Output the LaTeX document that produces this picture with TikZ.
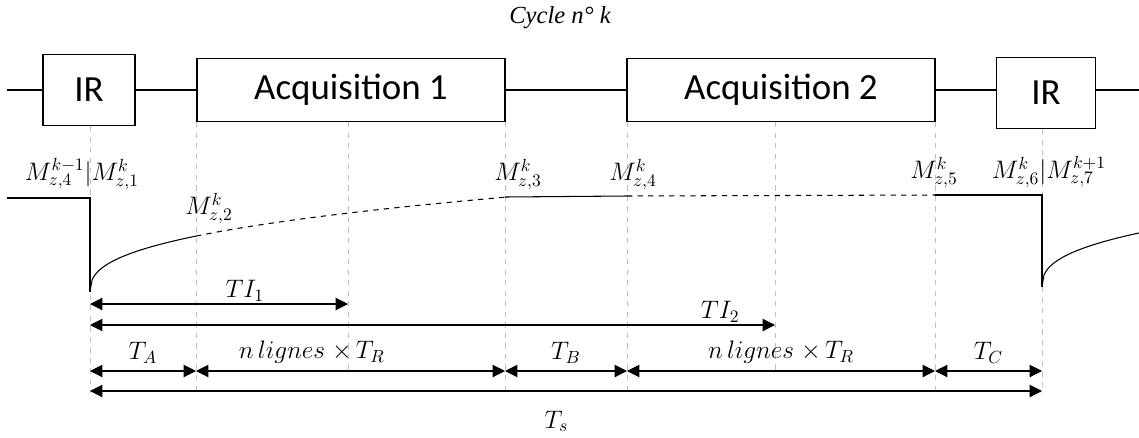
\documentclass[tikz,border=0pt]{standalone}
\usepackage{fontspec}
\setsansfont{Carlito}
\newfontfamily\cyclefont{Liberation Serif}
\usetikzlibrary{arrows.meta}

\begin{document}
\begin{tikzpicture}[x=0.02cm,y=-0.02cm,
    bloc/.style={draw,line width=1.1pt,inner sep=0pt,font=\sffamily\fontsize{21}{25}\selectfont},
    guide/.style={gray!50,dashed,line width=0.4pt},
    cote/.style={{Triangle[length=7pt,width=7pt]}-{Triangle[length=7pt,width=7pt]},line width=0.6pt},
    etiq/.style={font=\fontsize{14}{16}\selectfont,inner sep=1pt}]
  \useasboundingbox (0,0) rectangle (1139,437);

  % sequence
  \node[bloc,minimum width=1.84cm,minimum height=1.42cm] (ir1) at (89,90) {IR};
  \node[bloc,minimum width=6.16cm,minimum height=1.26cm] (acq1) at (351,90) {Acquisition 1};
  \node[bloc,minimum width=6.16cm,minimum height=1.26cm] (acq2) at (781,90) {Acquisition 2};
  \node[bloc,minimum width=1.98cm,minimum height=1.42cm] (ir2) at (1046,93) {IR};
  \coordinate (debut) at (7,90);
  \coordinate (fin) at (1139,90);
  \draw[line width=0.6pt] (debut) -- (ir1) -- (acq1) -- (acq2) -- (acq2 -| ir2.west);
  \draw[line width=0.6pt] (ir2.east |- fin) -- (fin);
  \node[font=\cyclefont\fontsize{14}{16}\selectfont\itshape] (cycle) at (560,18) {Cycle n° k};

  % instants
  \coordinate (t0) at (90,126);
  \coordinate (t1) at (196,122);
  \coordinate (t2) at (348,122);
  \coordinate (t3) at (505,122);
  \coordinate (t4) at (627,122);
  \coordinate (t5) at (775,122);
  \coordinate (t6) at (935,122);
  \coordinate (t7) at (1042,129);
  \coordinate (r1) at (0,304);
  \coordinate (r2) at (0,325);
  \coordinate (r3) at (0,371);
  \coordinate (r4) at (0,391);
  \coordinate (bas) at (0,393);
  \foreach \t in {t0,t1,t3,t4,t6,t7}
    \draw[guide] (\t) -- (\t |- bas);
  \foreach \t in {t2,t5}
    \draw[guide] (\t) -- (\t |- r3);

  % aimantation
  \draw[line width=0.6pt] (7,198) -- (90,198) -- (90,292);
  \draw[line width=0.6pt] plot[domain=0.001:106,samples=50] ({90+\x},{292-9.2*(\x)^0.387});
  \draw[line width=0.6pt,dashed] plot[domain=106:415,samples=50] ({90+\x},{292-9.2*(\x)^0.387});
  \draw[line width=0.6pt] (505,197) -- (627,196);
  \draw[line width=0.6pt,dashed] (627,196) -- (935,195);
  \draw[line width=0.6pt] (935,195) -- (1042,195) -- (1042,287);
  \draw[line width=0.6pt] plot[domain=0.001:97,samples=50] ({1042+\x},{287-9.2*(\x)^0.387});

  \node[etiq,anchor=south] (m1) at (82,192) {$M_{z,4}^{k-1}|M_{z,1}^{k}$};
  \node[etiq,anchor=south] (m2) at (209,226) {$M_{z,2}^{k}$};
  \node[etiq,anchor=south] (m3) at (518,192) {$M_{z,3}^{k}$};
  \node[etiq,anchor=south] (m4) at (633,192) {$M_{z,4}^{k}$};
  \node[etiq,anchor=south] (m5) at (934,190) {$M_{z,5}^{k}$};
  \node[etiq,anchor=south] (m6) at (1049,190) {$M_{z,6}^{k}|M_{z,7}^{k+1}$};

  % durees
  \draw[cote] (t0 |- r1) -- node[etiq,above,pos=0.6] {$TI_1$} (t2 |- r1);
  \draw[cote] (t0 |- r2) -- node[etiq,above,pos=0.92] {$TI_2$} (t5 |- r2);
  \draw[cote] (t0 |- r3) -- node[etiq,above=3pt] {$T_A$} (t1 |- r3);
  \draw[cote] (t1 |- r3) -- node[etiq,above=3pt,pos=0.375] {$n\,lignes\;{\times}\,T_R$} (t3 |- r3);
  \draw[cote] (t3 |- r3) -- node[etiq,above=3pt] {$T_B$} (t4 |- r3);
  \draw[cote] (t4 |- r3) -- node[etiq,above=3pt] {$n\,lignes\;{\times}\,T_R$} (t6 |- r3);
  \draw[cote] (t6 |- r3) -- node[etiq,above=3pt] {$T_C$} (t7 |- r3);
  \draw[cote] (t0 |- r4) -- node[etiq,below=10pt,pos=0.49] {$T_s$} (t7 |- r4);
\end{tikzpicture}
\end{document}
